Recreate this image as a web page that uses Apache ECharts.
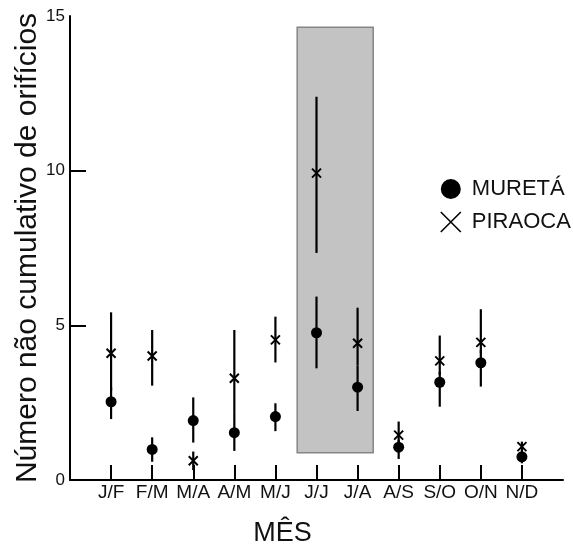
<!DOCTYPE html>
<html>
<head>
<meta charset="utf-8">
<script src="https://cdn.jsdelivr.net/npm/echarts@6/dist/echarts.min.js"></script>
<style>
html,body{margin:0;padding:0;background:#fff;}
#chart{width:573px;height:547px;}
</style>
</head>
<body>
<div id="chart"></div>
<script>
const months = ['J/F','F/M','M/A','A/M','M/J','J/J','J/A','A/S','S/O','O/N','N/D'];
const yTickLabels = [0, 5, 10, 15];

const mureta   = [2.53, 0.99, 1.92, 1.53, 2.05, 4.76, 3.00, 1.06, 3.16, 3.79, 0.75];
const muretaLo = [1.97, 0.59, 1.21, 0.94, 1.58, 3.61, 2.23, 0.68, 2.37, 3.02, 0.54];
const muretaHi = [3.00, 1.38, 2.67, 2.20, 2.48, 5.93, 3.70, 1.30, 3.50, 4.20, 0.90];

const piraoca   = [4.10, 4.01, 0.62, 3.29, 4.53, 9.92, 4.42, 1.45, 3.85, 4.45, 1.08];
const piraocaLo = [2.90, 3.05, 0.32, 2.20, 3.80, 7.34, 3.70, 1.20, 3.40, 4.10, 0.90];
const piraocaHi = [5.42, 4.85, 0.92, 4.85, 5.28, 12.39, 5.57, 1.89, 4.67, 5.52, 1.24];

// shaded period (J/J – J/A), in axis units
const shadeX = [5.53, 7.38];
const shadeY = [0.88, 14.64];

const FONT = '"Liberation Sans", Arial, sans-serif';
const crossPath = 'path://M0,0L10,10M10,0L0,10';

function errData(lo, hi) {
  return lo.map((l, i) => [i + 1, l, hi[i]]);
}
function ptData(v) {
  return v.map((y, i) => [i + 1, y]);
}
function renderErr(params, api) {
  const x = api.value(0), lo = api.value(1), hi = api.value(2);
  const p1 = api.coord([x, lo]), p2 = api.coord([x, hi]);
  return {
    type: 'line',
    shape: {x1: p1[0], y1: p1[1], x2: p2[0], y2: p2[1]},
    style: {stroke: '#000', lineWidth: 2.2}
  };
}

const chart = echarts.init(document.getElementById('chart'), null, {renderer: 'canvas'});
chart.setOption({
  animation: false,
  backgroundColor: '#fff',
  textStyle: {fontFamily: FONT, color: '#111'},
  grid: {left: 70, right: 10, top: 16, bottom: 67, containLabel: false, outerBoundsMode: 'none'},
  legend: {
    orient: 'vertical',
    left: 435,
    top: 173,
    itemWidth: 20,
    itemHeight: 20,
    itemGap: 11,
    textStyle: {fontFamily: FONT, fontSize: 22, color: '#111', padding: [0, 0, 0, 6]},
    data: [
      {name: 'MURETÁ', icon: 'circle', itemStyle: {color: '#000'}},
      {name: 'PIRAOCA', icon: crossPath, itemStyle: {color: 'rgba(0,0,0,0)', borderColor: '#000', borderWidth: 1.6}}
    ]
  },
  xAxis: {
    type: 'value',
    min: 0, max: 12, interval: 1,
    name: 'MÊS',
    nameLocation: 'middle',
    nameGap: 40,
    nameMoveOverlap: false,
    nameTextStyle: {fontFamily: FONT, fontSize: 27, color: '#111', padding: [0, 68, 0, 0]},
    splitLine: {show: false},
    axisLine: {show: true, lineStyle: {color: '#000', width: 2}},
    axisTick: {show: true, inside: true, length: 15, customValues: months.map((m, i) => i + 1), lineStyle: {color: '#000', width: 2}},
    axisLabel: {
      show: true, margin: 3, fontFamily: FONT, fontSize: 19, color: '#111',
      customValues: months.map((m, i) => i + 1),
      formatter: v => months[Math.round(v) - 1] || ''
    }
  },
  yAxis: {
    type: 'value',
    min: 0, max: 15, interval: 5,
    name: 'Número não cumulativo de orifícios',
    nameLocation: 'middle',
    nameGap: 27,
    nameMoveOverlap: false,
    nameTextStyle: {fontFamily: FONT, fontSize: 30, color: '#111'},
    splitLine: {show: false},
    axisLine: {show: true, lineStyle: {color: '#000', width: 2}},
    axisTick: {show: true, inside: true, length: 16, customValues: [5, 10], lineStyle: {color: '#000', width: 2}},
    axisLabel: {
      show: true, margin: 5, fontFamily: FONT, fontSize: 17, color: '#111',
      customValues: yTickLabels
    }
  },
  series: [
    {
      type: 'custom',
      name: 'errM',
      renderItem: renderErr,
      encode: {x: 0, y: [1, 2]},
      data: errData(muretaLo, muretaHi),
      z: 3,
      markArea: {
        silent: true,
        z: 1,
        itemStyle: {color: '#c3c3c3', borderColor: '#858585', borderWidth: 1.5},
        data: [[{coord: [shadeX[0], shadeY[1]]}, {coord: [shadeX[1], shadeY[0]]}]]
      }
    },
    {
      type: 'custom',
      name: 'errP',
      renderItem: renderErr,
      encode: {x: 0, y: [1, 2]},
      data: errData(piraocaLo, piraocaHi),
      z: 3
    },
    {
      type: 'scatter',
      name: 'MURETÁ',
      symbol: 'circle',
      symbolSize: 11,
      itemStyle: {color: '#000', opacity: 1},
      data: ptData(mureta),
      z: 5
    },
    {
      type: 'scatter',
      name: 'PIRAOCA',
      symbol: crossPath,
      symbolSize: 9,
      itemStyle: {color: 'rgba(0,0,0,0)', borderColor: '#000', borderWidth: 2, opacity: 1},
      data: ptData(piraoca),
      z: 5
    }
  ]
});
</script>
</body>
</html>
